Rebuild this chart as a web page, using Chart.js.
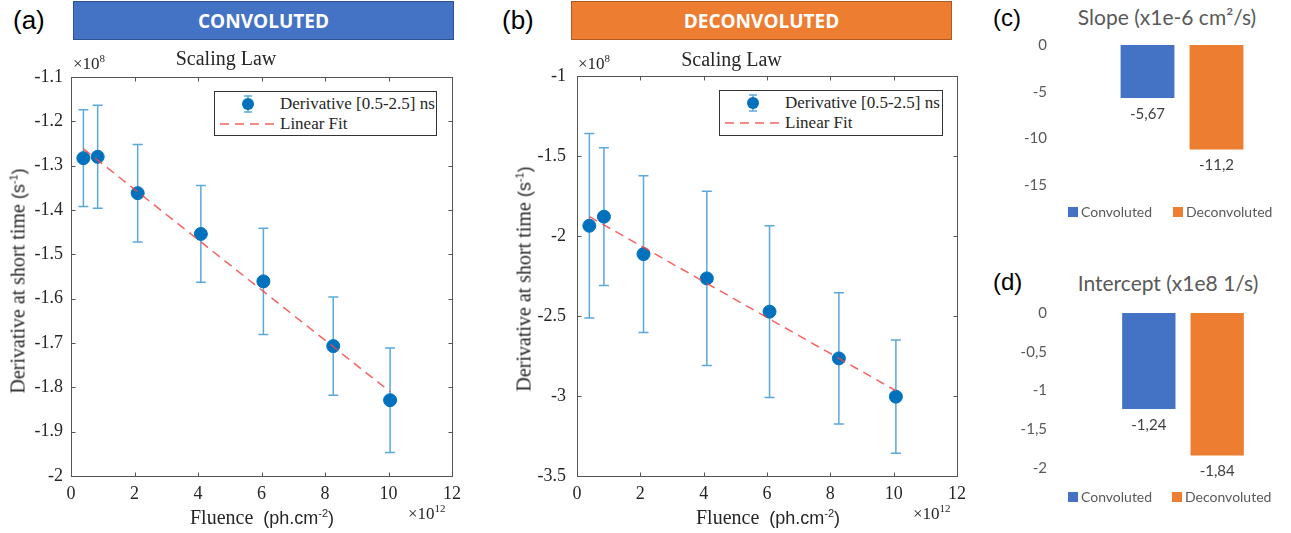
<!DOCTYPE html>
<html>
<head>
<meta charset="utf-8">
<title>Scaling law</title>
<script src="https://cdn.jsdelivr.net/npm/chart.js@4.4.1/dist/chart.umd.min.js"></script>
<style>
  body { margin: 0; background: #fff; }
  #page { position: relative; width: 1291px; height: 533px; overflow: hidden; }
  .abs { position: absolute; white-space: nowrap; }
  canvas { position: absolute; }
  .panel { font-family: "Liberation Sans", Arial, sans-serif; font-size: 26px; line-height: 1; color: #000; }
  .banner { font-family: "Open Sans", sans-serif; font-weight: 700; font-size: 19px; color: #fff;
            display: flex; align-items: center; justify-content: center; box-sizing: border-box; }
  .serif { font-family: "Liberation Serif", serif; color: #262626; }
  .sans { font-family: "Liberation Sans", Arial, sans-serif; color: #262626; }
  .ctr { transform: translate(-50%, -50%); }
  .rot { transform: translate(-50%, -50%) rotate(-90deg); }
  .legend { border: 1px solid #333; background: #fff; box-sizing: border-box; }
  .office { font-family: Lato, sans-serif; color: #595959; }
  .sq { position: absolute; width: 10px; height: 10px; }
</style>
</head>
<body>
<div id="page">
  <!-- (a) convoluted -->
  <div class="abs panel" style="left:13px;top:7px">(a)</div>
  <div class="abs banner" style="left:73px;top:1px;width:381px;height:39px;background:#4472C4;border:1px solid #2F528F">CONVOLUTED</div>
  <canvas id="convChart" width="470" height="460" style="left:0;top:48px"></canvas>
  <div class="abs serif" style="left:73px;top:52px;font-size:17px">×10<sup style="font-size:11px">8</sup></div>
  <div class="abs rot" style="left:18px;top:281px"><span class="serif" style="font-size:20px">Derivative at short time </span><span class="sans" style="font-size:18px">(s<sup style="font-size:11px">-1</sup>)</span></div>
  <div class="abs ctr" style="left:262px;top:517px"><span class="serif" style="font-size:20px">Fluence&nbsp; </span><span class="sans" style="font-size:18px">(ph.cm<sup style="font-size:11px">-2</sup>)</span></div>
  <div class="abs serif" style="left:408px;top:502px;font-size:17px">×10<sup style="font-size:11px">12</sup></div>
  <div id="convLegend" class="abs legend" style="left:214px;top:91px;width:223px;height:45px"></div>

  <!-- (b) deconvoluted -->
  <div class="abs panel" style="left:502px;top:7px">(b)</div>
  <div class="abs banner" style="left:571px;top:1px;width:381px;height:39px;background:#ED7D31;border:1px solid #AE5A21">DECONVOLUTED</div>
  <canvas id="deconvChart" width="470" height="460" style="left:506px;top:49px"></canvas>
  <div class="abs serif" style="left:578px;top:52px;font-size:17px">×10<sup style="font-size:11px">8</sup></div>
  <div class="abs rot" style="left:524px;top:279px"><span class="serif" style="font-size:20px">Derivative at short time </span><span class="sans" style="font-size:18px">(s<sup style="font-size:11px">-1</sup>)</span></div>
  <div class="abs ctr" style="left:768px;top:517px"><span class="serif" style="font-size:20px">Fluence&nbsp; </span><span class="sans" style="font-size:18px">(ph.cm<sup style="font-size:11px">-2</sup>)</span></div>
  <div class="abs serif" style="left:913px;top:502px;font-size:17px">×10<sup style="font-size:11px">12</sup></div>
  <div id="deconvLegend" class="abs legend" style="left:719px;top:90px;width:224px;height:46px"></div>

  <!-- (c) slope -->
  <div class="abs panel" style="left:993px;top:6px;font-size:24px">(c)</div>
  <div class="abs office ctr" style="left:1167px;top:16px;font-size:21px">Slope (x1e-6 cm²/s)</div>
  <canvas id="slopeChart" width="301" height="210" style="left:990px;top:10px"></canvas>
  <div class="sq" style="left:1068px;top:207px;background:#4472C4"></div>
  <div class="abs office" style="left:1081px;top:203px;font-size:14px">Convoluted</div>
  <div class="sq" style="left:1173px;top:207px;background:#ED7D31"></div>
  <div class="abs office" style="left:1186px;top:203px;font-size:14px">Deconvoluted</div>

  <!-- (d) intercept -->
  <div class="abs panel" style="left:993px;top:270px;font-size:24px">(d)</div>
  <div class="abs office ctr" style="left:1168px;top:282px;font-size:21px">Intercept (x1e8 1/s)</div>
  <canvas id="interceptChart" width="301" height="229" style="left:990px;top:276px"></canvas>
  <div class="sq" style="left:1068px;top:492px;background:#4472C4"></div>
  <div class="abs office" style="left:1081px;top:488px;font-size:14px">Convoluted</div>
  <div class="sq" style="left:1172px;top:492px;background:#ED7D31"></div>
  <div class="abs office" style="left:1185px;top:488px;font-size:14px">Deconvoluted</div>
</div>

<script>
// scaling law data, x in 1e12 ph/cm2, y in 1e8 1/s
const fluenceConv = [0.39, 0.84, 2.10, 4.09, 6.06, 8.26, 10.05];
const derivConv = [-1.283, -1.280, -1.362, -1.454, -1.561, -1.707, -1.829];
const errConv = [0.109, 0.116, 0.110, 0.109, 0.120, 0.111, 0.118];
const fitXConv = [0.39, 10.05];
const fitYConv = [-1.262, -1.810];

const fluenceDeconv = [0.39, 0.85, 2.10, 4.10, 6.08, 8.27, 10.07];
const derivDeconv = [-1.936, -1.879, -2.113, -2.265, -2.473, -2.765, -3.004];
const errDeconv = [0.577, 0.430, 0.490, 0.545, 0.537, 0.410, 0.354];
const fitXDeconv = [0.39, 10.07];
const fitYDeconv = [-1.879, -2.967];

const fluenceTicks = [0, 2, 4, 6, 8, 10, 12];
const yTicksConv = [-2, -1.9, -1.8, -1.7, -1.6, -1.5, -1.4, -1.3, -1.2, -1.1];
const yTicksDeconv = [-3.5, -3, -2.5, -2, -1.5, -1];

// fit parameters
const methods = ['Convoluted', 'Deconvoluted'];
const slopeValues = [-5.67, -11.2];
const interceptValues = [-1.24, -1.84];
const slopeTicks = [-15, -10, -5, 0];
const interceptTicks = [-2, -1.5, -1, -0.5, 0];

const POINT = '#0072BD';
const ERRBAR = '#5BA8DC';
const FIT = 'rgba(245, 70, 70, 0.85)';
const AXIS = '#555';
const TEXT = '#262626';

function legendHtml() {
  return '<svg class="abs" style="left:23px;top:2px" width="20" height="20">' +
    '<line x1="10" y1="2" x2="10" y2="18" stroke="' + ERRBAR + '" stroke-width="1.5"/>' +
    '<line x1="6" y1="2" x2="14" y2="2" stroke="' + ERRBAR + '" stroke-width="1.5"/>' +
    '<line x1="6" y1="18" x2="14" y2="18" stroke="' + ERRBAR + '" stroke-width="1.5"/>' +
    '<circle cx="10" cy="10" r="6" fill="' + POINT + '"/></svg>' +
    '<div class="abs serif" style="left:65px;top:2px;font-size:17px;line-height:20px">Derivative [0.5-2.5] ns</div>' +
    '<svg class="abs" style="left:0;top:22px" width="64" height="20">' +
    '<line x1="5" y1="10" x2="62" y2="10" stroke="' + FIT + '" stroke-width="1.5" stroke-dasharray="9 6"/></svg>' +
    '<div class="abs serif" style="left:65px;top:22px;font-size:17px;line-height:20px">Linear Fit</div>';
}
document.getElementById('convLegend').innerHTML = legendHtml();
document.getElementById('deconvLegend').innerHTML = legendHtml();

const errorBars = {
  id: 'errorBars',
  beforeDatasetsDraw(chart) {
    const ds = chart.data.datasets[1];
    const {ctx, scales: {x, y}} = chart;
    ctx.save();
    ctx.strokeStyle = ERRBAR;
    ctx.lineWidth = 1.5;
    ds.data.forEach((p, i) => {
      const px = x.getPixelForValue(p.x);
      const top = y.getPixelForValue(p.y + ds.errors[i]);
      const bot = y.getPixelForValue(p.y - ds.errors[i]);
      ctx.beginPath();
      ctx.moveTo(px, top); ctx.lineTo(px, bot);
      ctx.moveTo(px - 5, top); ctx.lineTo(px + 5, top);
      ctx.moveTo(px - 5, bot); ctx.lineTo(px + 5, bot);
      ctx.stroke();
    });
    ctx.restore();
  }
};

const frame = {
  id: 'frame',
  afterDatasetsDraw(chart) {
    const {ctx, chartArea: a, scales: {x, y}} = chart;
    const l = Math.round(a.left) + 0.5, r = Math.round(a.right) + 0.5;
    const t = Math.round(a.top) + 0.5, b = Math.round(a.bottom) + 0.5;
    ctx.save();
    ctx.strokeStyle = AXIS;
    ctx.lineWidth = 1;
    ctx.strokeRect(l, t, r - l, b - t);
    ctx.beginPath();
    x.ticks.forEach(tk => {
      const px = Math.round(x.getPixelForValue(tk.value)) + 0.5;
      ctx.moveTo(px, b); ctx.lineTo(px, b - 4);
      ctx.moveTo(px, t); ctx.lineTo(px, t + 4);
    });
    y.ticks.forEach(tk => {
      const py = Math.round(y.getPixelForValue(tk.value)) + 0.5;
      ctx.moveTo(l, py); ctx.lineTo(l + 4, py);
      ctx.moveTo(r, py); ctx.lineTo(r - 4, py);
    });
    ctx.stroke();
    ctx.restore();
  }
};

function scalingChart(id, xs, ys, errs, fitX, fitY, yTicks, cfg) {
  const tickFont = {family: 'Liberation Serif', size: 18};
  new Chart(document.getElementById(id), {
    type: 'scatter',
    data: {
      datasets: [
        {
          label: 'Linear Fit',
          type: 'line',
          data: fitX.map((x, i) => ({x: x, y: fitY[i]})),
          borderColor: FIT,
          borderWidth: 1.5,
          borderDash: [9, 6],
          pointRadius: 0,
          fill: false,
          order: 0
        },
        {
          label: 'Derivative [0.5-2.5] ns',
          data: xs.map((x, i) => ({x: x, y: ys[i]})),
          errors: errs,
          backgroundColor: POINT,
          borderColor: POINT,
          pointRadius: 6.5,
          order: 1
        }
      ]
    },
    options: {
      responsive: false,
      animation: false,
      layout: {padding: {left: 0, right: cfg.padRight, top: 0, bottom: 0}},
      plugins: {
        legend: {display: false},
        tooltip: {enabled: false},
        title: {
          display: true,
          text: 'Scaling Law',
          color: TEXT,
          font: {family: 'Liberation Serif', size: 20, weight: 'normal'},
          padding: {top: 0, bottom: cfg.titleGap}
        }
      },
      scales: {
        x: {
          type: 'linear',
          min: 0, max: 12,
          afterBuildTicks: s => { s.ticks = fluenceTicks.map(v => ({value: v})); },
          ticks: {color: TEXT, font: tickFont, padding: 7},
          grid: {display: false, drawTicks: false},
          border: {display: false},
          afterFit: s => { s.height = cfg.xHeight; }
        },
        y: {
          min: yTicks[0], max: yTicks[yTicks.length - 1],
          afterBuildTicks: s => { s.ticks = yTicks.map(v => ({value: v})); },
          ticks: {color: TEXT, font: tickFont, padding: cfg.yPad, callback: v => String(+v.toFixed(2))},
          grid: {display: false, drawTicks: false},
          border: {display: false},
          afterFit: s => { s.width = 71; }
        }
      }
    },
    plugins: [errorBars, frame]
  });
}

scalingChart('convChart', fluenceConv, derivConv, errConv, fitXConv, fitYConv, yTicksConv,
  {padRight: 18, titleGap: 5, xHeight: 32, yPad: 8});
scalingChart('deconvChart', fluenceDeconv, derivDeconv, errDeconv, fitXDeconv, fitYDeconv, yTicksDeconv,
  {padRight: 19, titleGap: 3, xHeight: 33, yPad: 11});

const barValues = {
  id: 'barValues',
  afterDatasetsDraw(chart) {
    const {ctx} = chart;
    ctx.save();
    ctx.font = '15px Lato';
    ctx.fillStyle = '#404040';
    ctx.textAlign = 'center';
    ctx.textBaseline = 'middle';
    chart.data.datasets.forEach((ds, i) => {
      chart.getDatasetMeta(i).data.forEach((bar, j) => {
        ctx.fillText(String(ds.data[j]).replace('.', ','), bar.x, bar.y + 16);
      });
    });
    ctx.restore();
  }
};

// tick padding also pads the plot top/bottom (label half height 9 + padding)
function paramChart(id, values, ticks, yWidth) {
  new Chart(document.getElementById(id), {
    type: 'bar',
    data: {
      labels: [''],
      datasets: [
        {label: methods[0], data: [values[0]], backgroundColor: '#4472C4'},
        {label: methods[1], data: [values[1]], backgroundColor: '#ED7D31'}
      ]
    },
    options: {
      responsive: false,
      animation: false,
      categoryPercentage: 0.633,
      barPercentage: 0.78,
      layout: {padding: 0},
      plugins: {legend: {display: false}, tooltip: {enabled: false}},
      scales: {
        x: {display: false},
        y: {
          min: ticks[0], max: ticks[ticks.length - 1],
          afterBuildTicks: s => { s.ticks = ticks.map(v => ({value: v})); },
          ticks: {color: '#595959', font: {family: 'Lato', size: 15}, padding: yWidth - 57,
                  callback: v => String(v).replace('.', ',')},
          grid: {display: false, drawTicks: false},
          border: {display: false},
          afterFit: s => { s.width = yWidth; }
        }
      }
    },
    plugins: [barValues]
  });
}

paramChart('slopeChart', slopeValues, slopeTicks, 83);
paramChart('interceptChart', interceptValues, interceptTicks, 85);
</script>
</body>
</html>
